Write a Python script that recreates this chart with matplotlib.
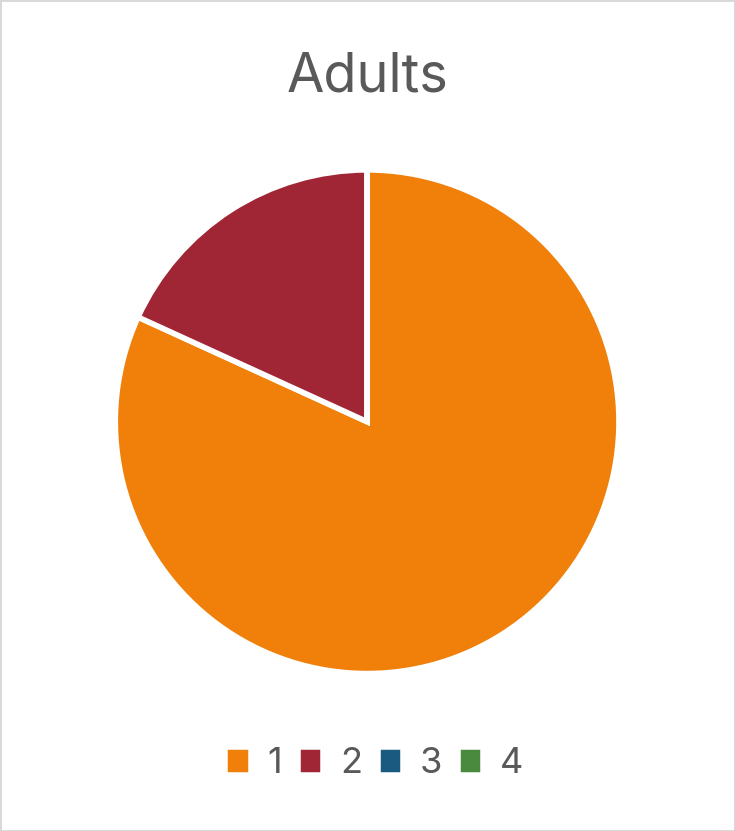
import matplotlib.pyplot as plt
from matplotlib.patches import Patch

# data
labels = ['1', '2', '3', '4']
values = [9, 2, 0, 0]
colors = ['#F0800A', '#A02636', '#1B5A80', '#4A8A3E']

fig = plt.figure(figsize=(7.35, 8.31), dpi=100)
fig.patch.set_edgecolor('#D9D9D9')
fig.patch.set_linewidth(2)

ax = fig.add_axes([0.162, 0.194, 0.675, 0.597])
ax.pie(values, colors=colors, startangle=90, counterclock=False,
       wedgeprops=dict(edgecolor='white', linewidth=4))
ax.set_xlim(-0.985, 0.985)
ax.set_ylim(-0.985, 0.985)
ax.set_aspect('equal')

fig.text(0.5, 0.907, 'Adults', ha='center', va='center', fontsize=39,
         color='#595959', family='Inter')

handles = [Patch(facecolor=c, edgecolor='none') for c in colors]
fig.legend(handles, labels, loc='center', bbox_to_anchor=(0.512, 0.081), ncol=4,
           frameon=False, handlelength=0.45, handleheight=0.45, handletextpad=0.6,
           columnspacing=0.55, prop=dict(family='Inter', size=26),
           labelcolor='#595959')

# make the legend squares a bit bigger, like the reference
for h in fig.legends[0].legend_handles:
    h.set_linewidth(2.5)
    h.set_edgecolor(h.get_facecolor())

fig.savefig('out.png', dpi=100, edgecolor=fig.get_edgecolor())
